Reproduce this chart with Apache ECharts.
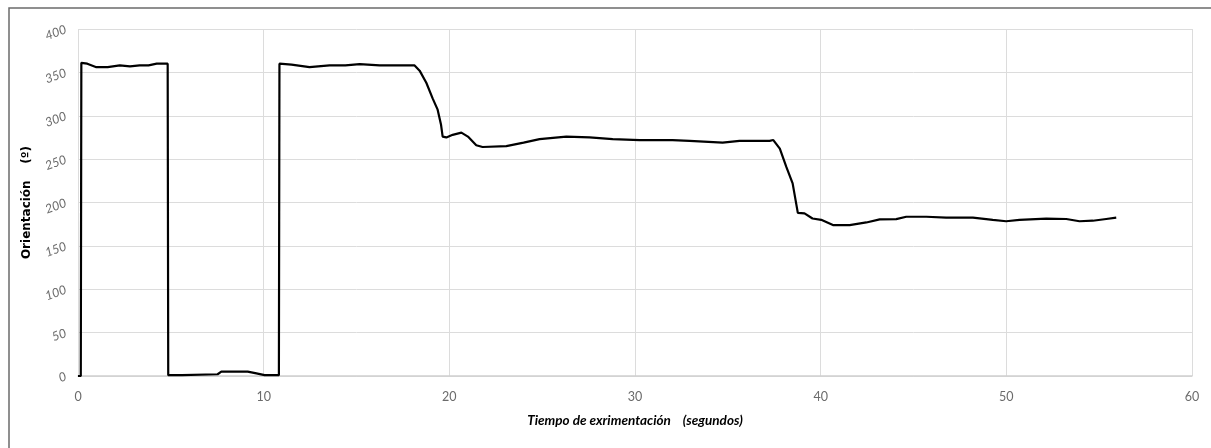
<!DOCTYPE html>
<html>
<head>
<meta charset="utf-8">
<script src="https://cdn.jsdelivr.net/npm/echarts@6/dist/echarts.min.js"></script>
<style>
html,body{margin:0;padding:0;background:#fff;}
#c{width:1211px;height:448px;}
</style>
</head>
<body>
<div id="c"></div>
<script>
const timeSec = [0,0.15,0.18,0.5,0.99,1.6,2.25,2.8,3.32,3.8,4.24,4.83,4.86,5.6,5.65,7.52,7.72,9.14,9.61,10.05,10.82,10.85,11.5,12.47,13.55,14.4,15.17,16.25,17.2,18.13,18.4,18.76,19.1,19.37,19.55,19.64,19.84,20.18,20.65,21.0,21.45,21.79,23.07,24.0,24.86,26.3,27.55,28.8,30.25,32.02,32.94,34.72,35.63,37.25,37.45,37.8,38.15,38.49,38.77,39.13,39.56,40.03,40.66,41.56,42.46,43.18,44.07,44.61,45.69,46.76,48.2,49.27,49.99,50.71,52.15,53.23,53.94,54.66,55.38,55.92];
const orientDeg = [0,0,361,360,356,356,358,357,358,358,360,360,1,1,2,2,5,5,3,1,1,360,359,356,358,358,359.6,358,358,358,352,338,320,307,290,276,275,278,280.5,276,266,264,265,269,273,276,275,273,272,272,271,269,271,271,272,262,241,222,188,187.5,181.6,180,174,174,177,180.5,180.8,183.6,183.6,182.5,182.5,180,178.4,180,181.4,181,178.4,179,181,182.5];
const xTicks = [0,10,20,30,40,50,60];
const yTicks = [0,50,100,150,200,250,300,350,400];
const xTitle = 'Tiempo de exrimentación    (segundos)';
const yTitle = 'Orientación    (º)';

const chart = echarts.init(document.getElementById('c'), null, {renderer:'canvas'});
const FONT = 'Lato, "Open Sans", sans-serif';
chart.setOption({
  animation:false,
  backgroundColor:'#fff',
  graphic:[{type:'rect', shape:{x:9,y:8,width:1240,height:480}, style:{fill:'none', stroke:'#6b6b6b', lineWidth:1.5}, silent:true}],
  grid:{left:78, right:19, top:29, bottom:72},
  xAxis:{
    type:'value', min:xTicks[0], max:xTicks[xTicks.length-1], interval:10,
    name:xTitle, nameLocation:'middle', nameGap:38,
    nameTextStyle:{fontFamily:FONT, fontSize:13.5, fontWeight:'bold', fontStyle:'italic', color:'#000'},
    axisLine:{show:true, lineStyle:{color:'#d0d0d0', width:1.5}},
    axisTick:{show:false},
    axisLabel:{fontFamily:FONT, fontSize:12.5, color:'#6b6b6b', margin:14},
    splitLine:{show:true, lineStyle:{color:'#dcdcdc', width:1}}
  },
  yAxis:{
    type:'value', min:yTicks[0], max:yTicks[yTicks.length-1], interval:50,
    name:yTitle, nameLocation:'middle', nameGap:30,
    nameTextStyle:{fontFamily:'"DejaVu Sans", Verdana, sans-serif', fontSize:12, fontWeight:'bold', color:'#000'},
    axisLine:{show:false},
    axisTick:{show:false},
    axisLabel:{fontFamily:FONT, fontSize:12.5, color:'#6b6b6b', margin:12, rotate:20, fontStyle:'italic'},
    splitLine:{show:true, lineStyle:{color:'#dcdcdc', width:1}}
  },
  series:[{
    type:'line', showSymbol:false, symbol:'none',
    data: timeSec.map((t,i)=>[t, orientDeg[i]]),
    lineStyle:{color:'#000', width:2.2},
    smooth:false
  }]
});
</script>
</body>
</html>
